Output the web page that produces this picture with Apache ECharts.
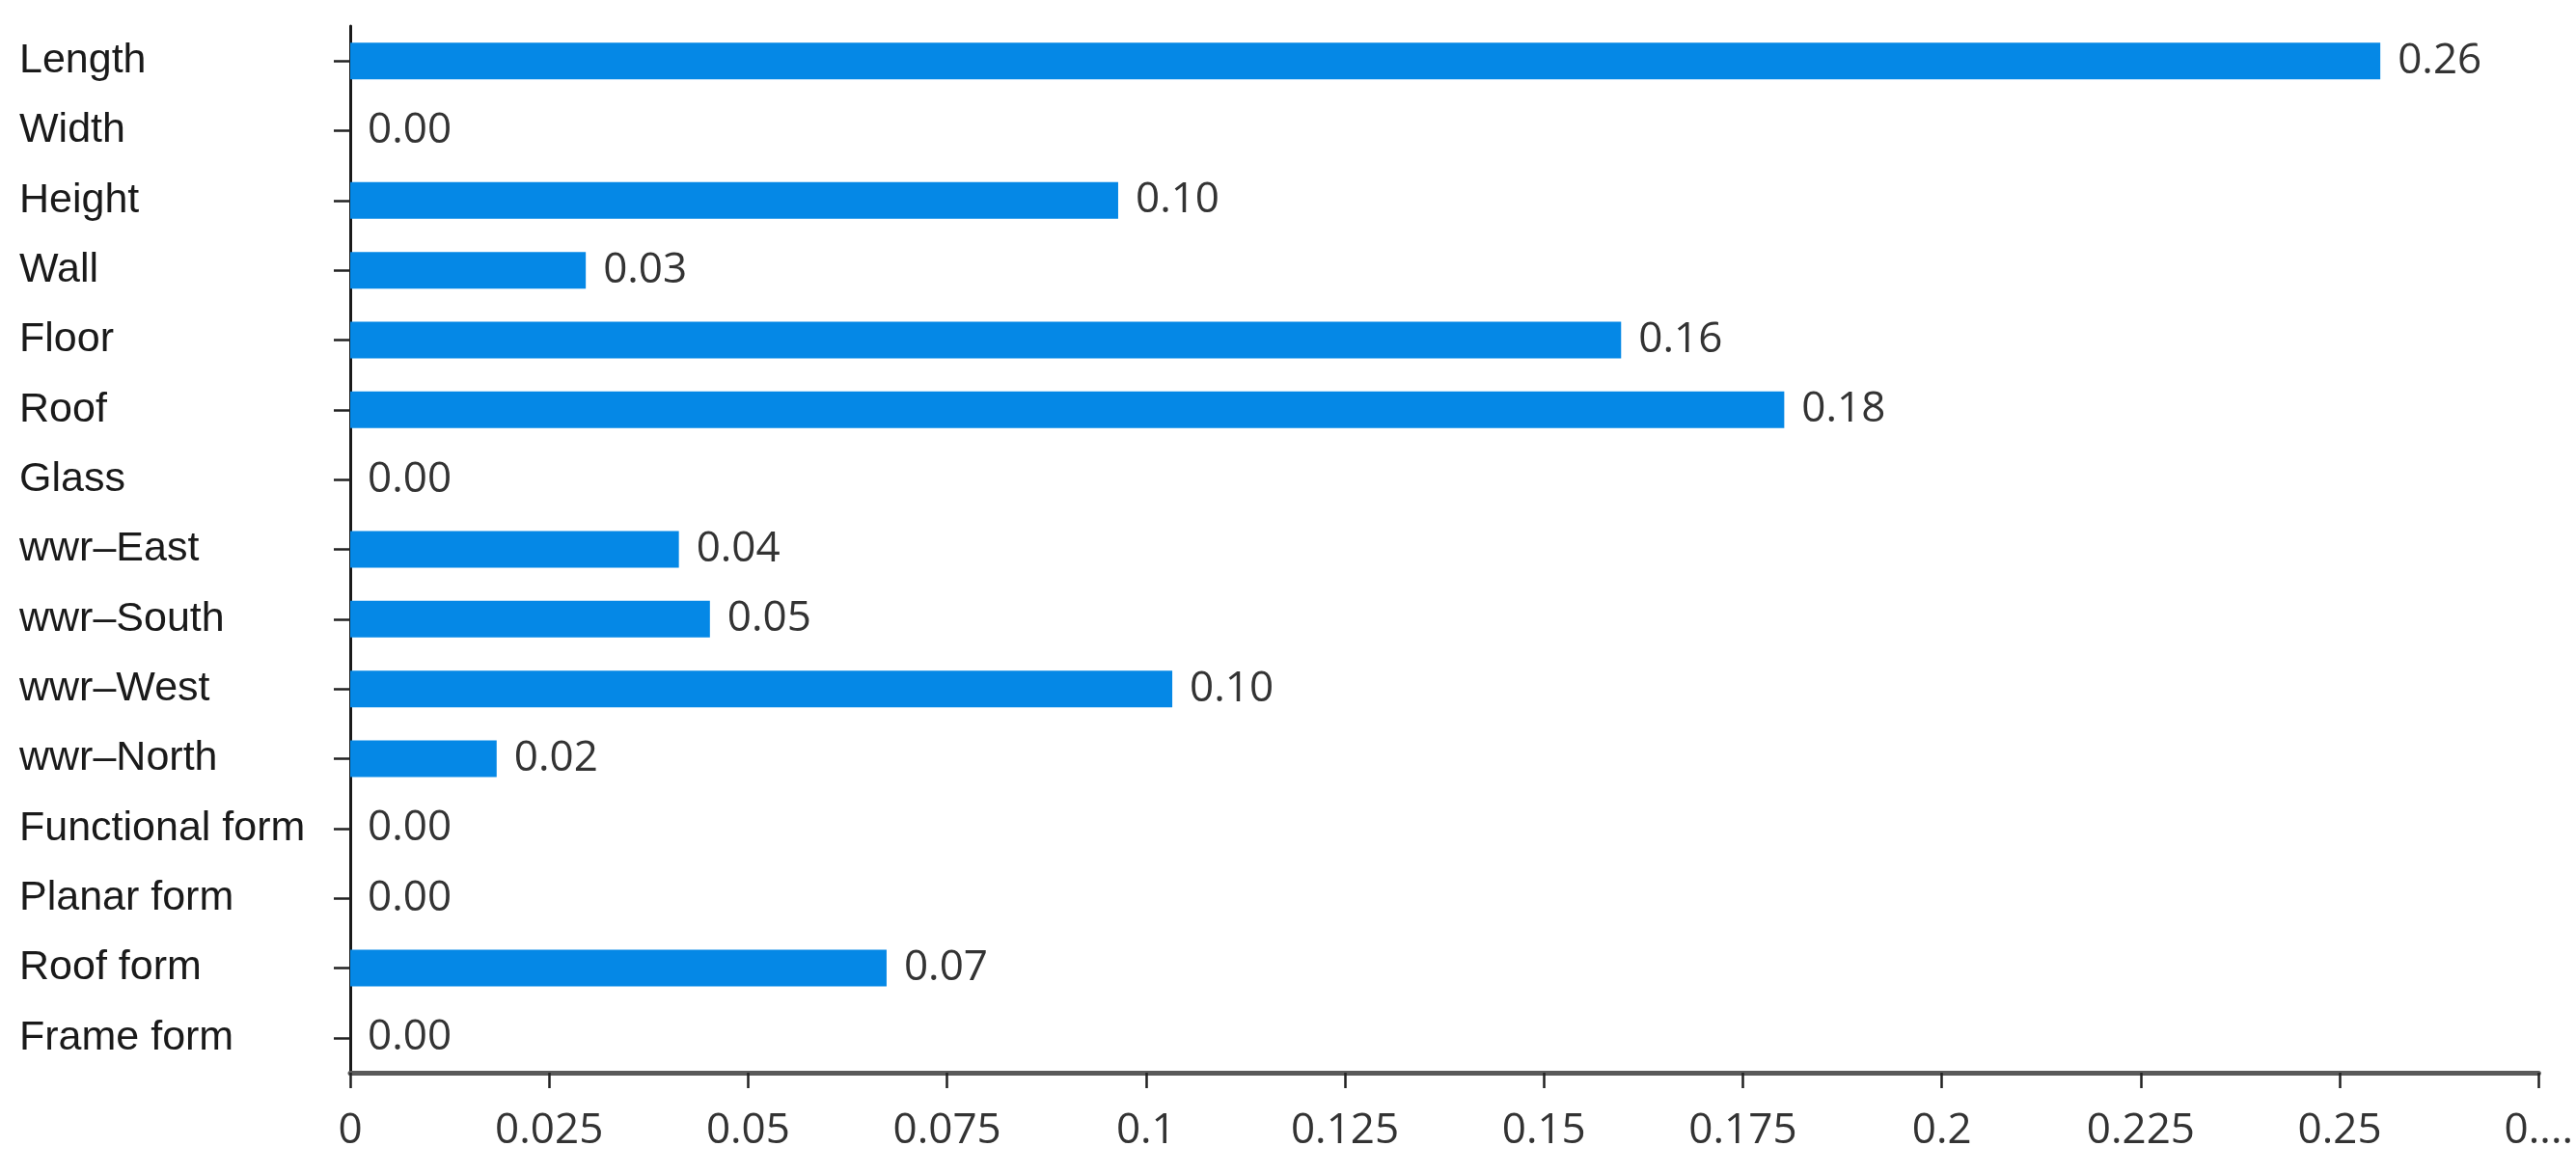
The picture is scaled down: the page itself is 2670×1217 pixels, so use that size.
<!DOCTYPE html>
<html>
<head>
<meta charset="utf-8">
<script src="https://cdn.jsdelivr.net/npm/echarts@6/dist/echarts.min.js"></script>
<style>
html,body{margin:0;padding:0;background:#fff;}
#chart{width:2670px;height:1217px;}
</style>
</head>
<body>
<div id="chart"></div>
<script>
const categories = ['Length','Width','Height','Wall','Floor','Roof','Glass','wwr\u2013East','wwr\u2013South','wwr\u2013West','wwr\u2013North','Functional form','Planar form','Roof form','Frame form'];
const values = [0.2551, 0, 0.0965, 0.0296, 0.1597, 0.1802, 0, 0.0413, 0.0452, 0.1033, 0.0184, 0, 0, 0.0674, 0];
const xMin = 0;
const xMax = 0.275;
const xInterval = 0.025;
const lastTickLabel = '0....';

const chart = echarts.init(document.getElementById('chart'), null, {renderer:'canvas'});
chart.setOption({
  animation: false,
  backgroundColor: '#ffffff',
  grid: {left: 363, right: 25, top: 27, bottom: 105, containLabel: false},
  xAxis: {
    type: 'value',
    min: xMin, max: xMax, interval: xInterval,
    splitLine: {show: false},
    axisLine: {show: true, lineStyle: {color: '#5a5a5a', width: 5}},
    axisTick: {show: true, length: 16, lineStyle: {color: '#222', width: 2.5}},
    axisLabel: {
      color: '#333', fontFamily: 'Open Sans', fontSize: 44, margin: 38,
      formatter: function (v) {
        if (v >= xMax - 1e-9) return lastTickLabel;
        return String(parseFloat(v.toFixed(3)));
      }
    }
  },
  yAxis: {
    type: 'category',
    data: categories,
    inverse: true,
    axisLine: {show: true, lineStyle: {color: '#1a1a1a', width: 3}},
    axisTick: {show: true, alignWithLabel: true, length: 17, lineStyle: {color: '#222', width: 2.5}},
    axisLabel: {
      color: '#1a1a1a', fontFamily: 'Liberation Sans', fontSize: 43,
      align: 'left', margin: 343
    },
    splitLine: {show: false}
  },
  series: [{
    type: 'bar',
    data: values,
    barWidth: 38,
    itemStyle: {color: '#0588e6'},
    label: {
      show: true, position: 'right', distance: 18,
      color: '#333', fontFamily: 'Open Sans', fontSize: 44,
      formatter: function (p) { return p.value.toFixed(2); }
    }
  }]
});
</script>
</body>
</html>
